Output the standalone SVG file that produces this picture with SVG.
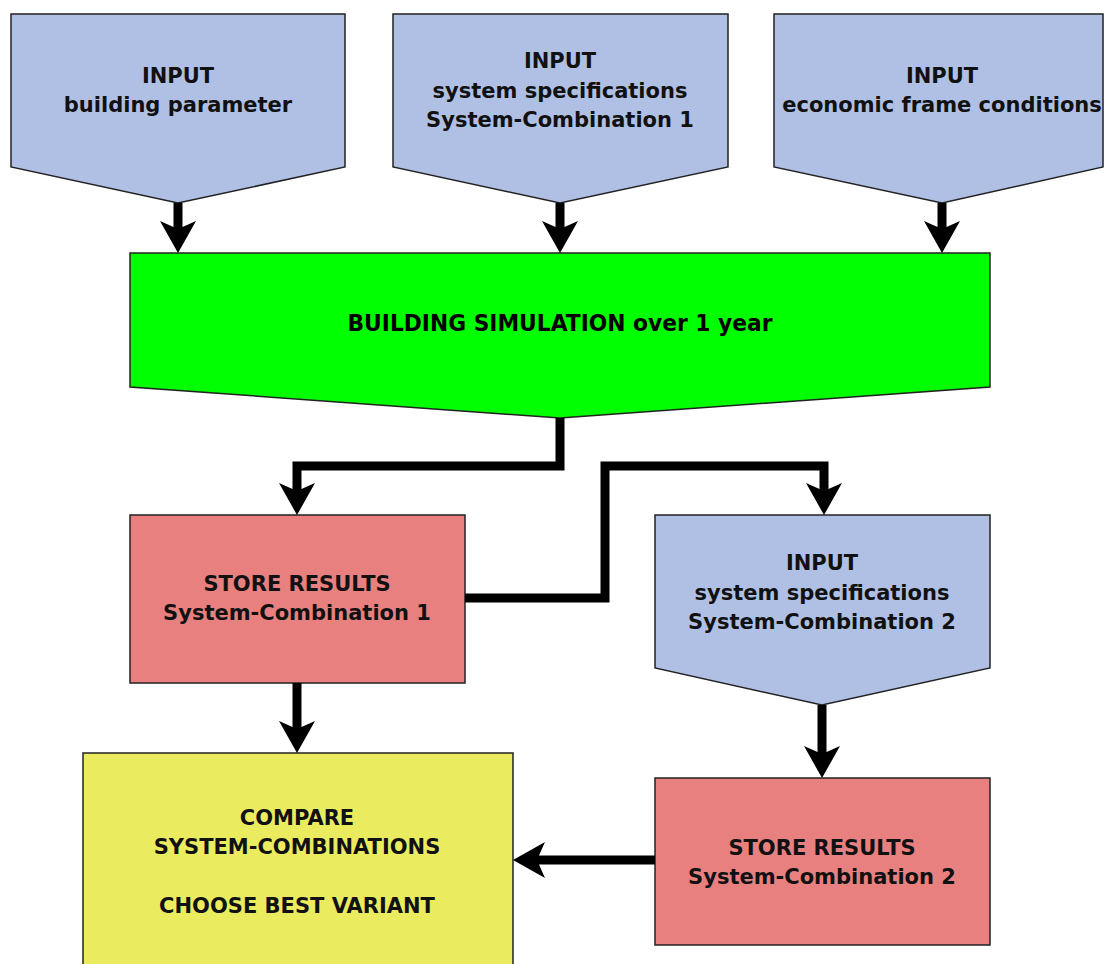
<svg xmlns="http://www.w3.org/2000/svg" width="1108" height="964" viewBox="0 0 1108 964">
<style>
.blue{fill:#b0c0e4;stroke:#222;stroke-width:1.5}
.green{fill:#00ff00;stroke:#222;stroke-width:1.5}
.pink{fill:#e88080;stroke:#222;stroke-width:1.5}
.yellow{fill:#ebeb60;stroke:#222;stroke-width:1.5}
text{font-family:"DejaVu Sans",Verdana,sans-serif;font-weight:bold;font-size:21px;fill:#111;text-anchor:middle}
.cond{font-size:23px;fill:#000}
.conn{fill:none;stroke:#000;stroke-width:9;stroke-linejoin:miter}
</style>
<defs>
<marker id="ah" markerUnits="userSpaceOnUse" markerWidth="34" markerHeight="36" viewBox="0 0 34 36" refX="9" refY="18" orient="auto">
<path d="M0,0 L32,18 L0,36 L8,18 z" fill="#000"/>
</marker>
</defs>
<g id="in-building">
<path class="blue" d="M11,14 H345 V167 L178,203 L11,167 Z"/>
<text x="178" y="83">INPUT</text>
<text x="178" y="112">building parameter</text>
</g>
<g id="in-system1">
<path class="blue" d="M393,14 H728 V167 L560,203 L393,167 Z"/>
<text x="560" y="68">INPUT</text>
<text x="560" y="98">system specifications</text>
<text x="560" y="127">System-Combination 1</text>
</g>
<g id="in-economic">
<path class="blue" d="M774,14 H1103 V167 L942,203 L774,167 Z"/>
<text x="942" y="83">INPUT</text>
<text x="942" y="112">economic frame conditions</text>
</g>
<g id="simulation">
<path class="green" d="M130,253 H990 V387 L560,418 L130,387 Z"/>
<text class="cond" x="560" y="331" textLength="425" lengthAdjust="spacingAndGlyphs">BUILDING SIMULATION over 1 year</text>
</g>
<g id="store1">
<rect class="pink" x="130" y="515" width="335" height="168"/>
<text x="297" y="591">STORE RESULTS</text>
<text x="297" y="620">System-Combination 1</text>
</g>
<g id="in-system2">
<path class="blue" d="M655,515 H990 V668 L822,705 L655,668 Z"/>
<text x="822" y="570">INPUT</text>
<text x="822" y="600">system specifications</text>
<text x="822" y="629">System-Combination 2</text>
</g>
<g id="compare">
<rect class="yellow" x="83" y="753" width="430" height="230"/>
<text x="297" y="825">COMPARE</text>
<text x="297" y="854">SYSTEM-COMBINATIONS</text>
<text x="297" y="913">CHOOSE BEST VARIANT</text>
</g>
<g id="store2">
<rect class="pink" x="655" y="778" width="335" height="167"/>
<text x="822" y="855">STORE RESULTS</text>
<text x="822" y="884">System-Combination 2</text>
</g>
<g id="connectors">
<path class="conn" marker-end="url(#ah)" d="M178,203 V230"/>
<path class="conn" marker-end="url(#ah)" d="M560,203 V230"/>
<path class="conn" marker-end="url(#ah)" d="M942,203 V230"/>
<path class="conn" marker-end="url(#ah)" d="M560,418 V466 H297 V492"/>
<path class="conn" marker-end="url(#ah)" d="M465,598 H605 V466 H824 V492"/>
<path class="conn" marker-end="url(#ah)" d="M297,683 V730"/>
<path class="conn" marker-end="url(#ah)" d="M822,705 V755"/>
<path class="conn" marker-end="url(#ah)" d="M655,860 H536"/>
</g>
</svg>
